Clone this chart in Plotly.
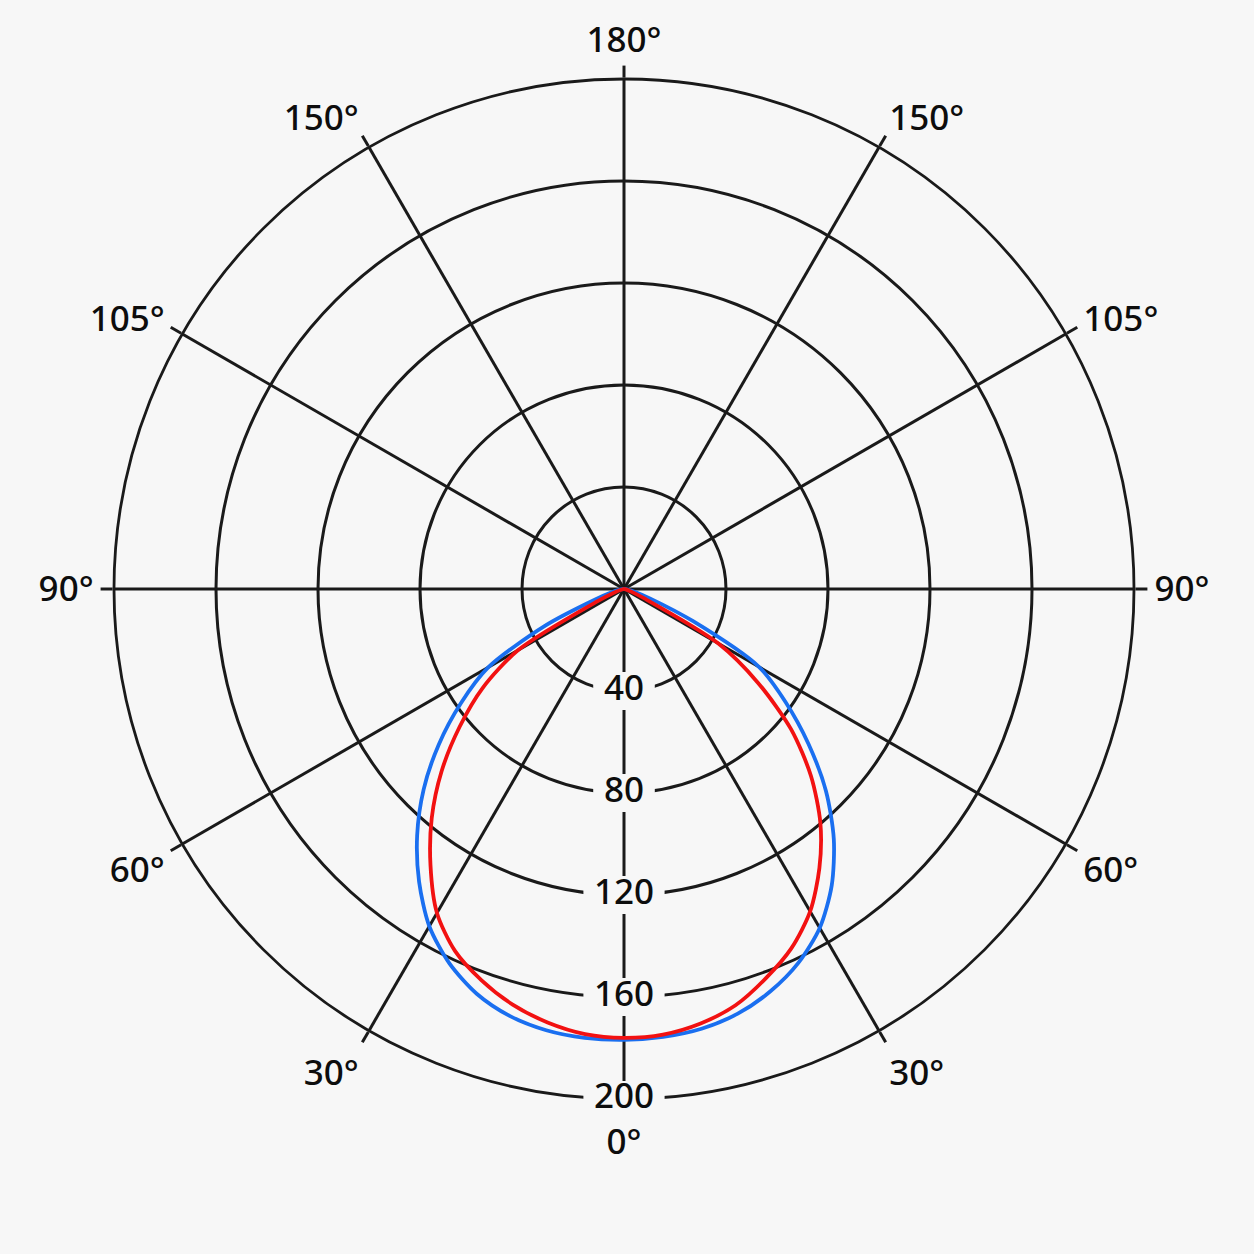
import plotly.graph_objects as go

# ---- data (angles in degrees, 0 = straight down; + to the left, - to the right) ----
theta_deg = [-90, -85, -80, -75, -70, -65, -60, -55, -50, -45, -40, -35, -30, -25, -20, -15, -10, -5,
             0, 5, 10, 15, 20, 25, 30, 35, 40, 45, 50, 55, 60, 65, 70, 75, 80, 85, 90]

blue_cd = [0, 0.5, 1.8, 4.5, 11, 29.9, 61.2, 77.4, 94.4, 112.0, 128.0, 142.0, 153.5, 161.8, 167.9, 172.4, 175.1, 176.3,
           176.8, 176.7, 175.7, 173.3, 168.9, 162.0, 152.7, 140.1, 126.2, 111.1, 94.8, 78.1, 61.5, 34.4, 12, 5, 2, 0.5, 0]

red_cd = [0, 0.1, 0.4, 1, 3, 9, 42.6, 64.2, 85.5, 103.7, 119.8, 133.6, 146.0, 155.4, 162.5, 169.0, 173.0, 175.4,
          176.0, 175.2, 172.6, 168.7, 163.3, 156.7, 146.7, 132.3, 117.3, 101.2, 84.2, 67.7, 47.9, 12, 4, 1.5, 0.5, 0.2, 0]

radial_ticks = [40, 80, 120, 160, 200]
radial_labels = ["40", "80", "120", "160", "200"]

angular_ticks = [0, 30, 60, 90, 120, 150, 180, 210, 240, 270, 300, 330]
angular_labels = ["0°", "30°", "60°", "90°", "105°", "150°", "180°", "150°", "105°", "90°", "60°", "30°"]

# ---- style ----
BG = "#f7f7f7"
INK = "#1a1a1a"
TEXT = "#0d0d0d"
FONT = "Noto Sans"

fig = go.Figure()

fig.add_trace(go.Scatterpolar(
    r=blue_cd, theta=theta_deg, mode="lines",
    line=dict(color="#1a6ff0", width=3.8, shape="spline", smoothing=0.8),
    hoverinfo="skip", showlegend=False,
))
fig.add_trace(go.Scatterpolar(
    r=red_cd, theta=theta_deg, mode="lines",
    line=dict(color="#f21111", width=3.8, shape="spline", smoothing=0.8),
    hoverinfo="skip", showlegend=False,
))

# background-coloured masks behind the radial value labels
fig.add_trace(go.Scatterpolar(
    r=radial_ticks, theta=[0] * len(radial_ticks), mode="markers",
    marker=dict(symbol="square", size=[38, 38, 38, 38, 36], color=BG, opacity=1,
                line=dict(color=BG, width=0)),
    opacity=1, cliponaxis=False,
    hoverinfo="skip", showlegend=False,
))
fig.add_trace(go.Scatterpolar(
    r=radial_ticks, theta=[0] * len(radial_ticks), mode="markers",
    marker=dict(symbol="line-ew", size=[44, 44, 58, 58, 58], color=BG, opacity=1,
                line=dict(color=BG, width=14)),
    opacity=1, cliponaxis=False,
    hoverinfo="skip", showlegend=False,
))
# radial value labels
fig.add_trace(go.Scatterpolar(
    r=radial_ticks, theta=[0] * len(radial_ticks), mode="text",
    text=radial_labels, textposition="middle center",
    textfont=dict(family=FONT, size=35, color=TEXT, weight=500),
    cliponaxis=False,
    hoverinfo="skip", showlegend=False,
))

fig.update_layout(
    width=1254, height=1254,
    paper_bgcolor=BG, plot_bgcolor=BG,
    margin=dict(l=114, r=120, t=79, b=155),
    showlegend=False,
    polar=dict(
        bgcolor=BG,
        radialaxis=dict(
            range=[0, 200], tickmode="array", tickvals=radial_ticks,
            showticklabels=False, ticks="", showline=False,
            gridcolor=INK, gridwidth=2.8, layer="below traces",
        ),
        angularaxis=dict(
            rotation=270, direction="clockwise",
            tickmode="array", tickvals=angular_ticks, ticktext=angular_labels,
            showgrid=True, gridcolor=INK, gridwidth=2.8,
            showline=True, linecolor=INK, linewidth=2.8,
            ticks="outside", ticklen=12, tickwidth=2.8, tickcolor=INK,
            tickfont=dict(family=FONT, size=35, color=TEXT, weight=500),
            layer="below traces",
        ),
    ),
)

fig.write_html(
    "out.html",
    config={"displayModeBar": False},
    post_script="document.body.style.margin='0';document.body.style.background='#f7f7f7';",
)
